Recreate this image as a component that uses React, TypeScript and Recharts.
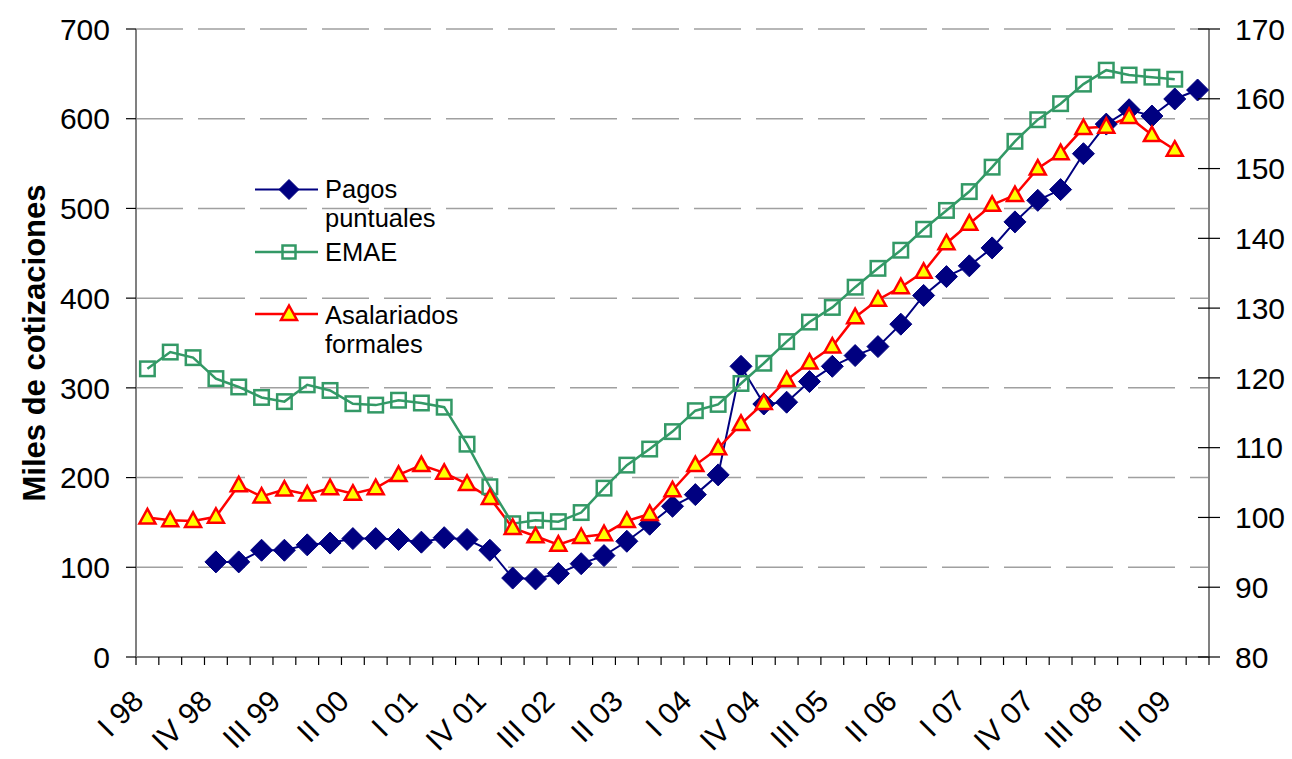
import React from 'react';
import { LineChart, Line, XAxis, YAxis, CartesianGrid, Legend } from 'recharts';

const quarters = [
  'I 98', 'II 98', 'III 98', 'IV 98',
  'I 99', 'II 99', 'III 99', 'IV 99',
  'I 00', 'II 00', 'III 00', 'IV 00',
  'I 01', 'II 01', 'III 01', 'IV 01',
  'I 02', 'II 02', 'III 02', 'IV 02',
  'I 03', 'II 03', 'III 03', 'IV 03',
  'I 04', 'II 04', 'III 04', 'IV 04',
  'I 05', 'II 05', 'III 05', 'IV 05',
  'I 06', 'II 06', 'III 06', 'IV 06',
  'I 07', 'II 07', 'III 07', 'IV 07',
  'I 08', 'II 08', 'III 08', 'IV 08',
  'I 09', 'II 09', 'III 09',
];

// Pagos puntuales (miles de cotizaciones, left axis)
const pagos = [
  null, null, null, 106,
  106, 119, 119, 125,
  127, 132, 132, 131,
  128, 133, 131, 119,
  88, 87, 93, 104,
  113, 129, 148, 168,
  181, 203, 324, 282,
  284, 307, 324, 336,
  346, 371, 403, 424,
  436, 456, 485, 509,
  521, 561, 594, 610,
  603, 622, 632,
];

// EMAE (index, right axis)
const emae = [
  121.3, 123.7, 122.9, 119.9,
  118.7, 117.2, 116.6, 119.0,
  118.2, 116.3, 116.1, 116.8,
  116.4, 115.8, 110.5, 104.4,
  99.1, 99.6, 99.4, 100.7,
  104.2, 107.5, 109.8, 112.3,
  115.3, 116.2, 119.2, 122.1,
  125.2, 128.0, 130.1, 133.0,
  135.7, 138.3, 141.3, 144.0,
  146.7, 150.2, 153.9, 157.0,
  159.3, 162.1, 164.1, 163.4,
  163.1, 162.8, null,
];

// Asalariados formales (index, right axis)
const asalariados = [
  100.0, 99.6, 99.5, 100.1,
  104.6, 103.0, 104.0, 103.3,
  104.2, 103.4, 104.2, 106.1,
  107.5, 106.4, 104.8, 102.8,
  98.5, 97.3, 96.1, 97.2,
  97.6, 99.5, 100.5, 103.9,
  107.5, 109.9, 113.4, 116.4,
  119.7, 122.2, 124.5, 128.7,
  131.2, 133.0, 135.2, 139.3,
  142.1, 144.8, 146.2, 150.0,
  152.2, 155.8, 156.0, 157.4,
  154.8, 152.7, null,
];

const leftTicks = [0, 100, 200, 300, 400, 500, 600, 700];
const rightTicks = [80, 90, 100, 110, 120, 130, 140, 150, 160, 170];

const data = quarters.map((q, i) => ({
  q,
  pagos: pagos[i],
  emae: emae[i],
  asal: asalariados[i],
}));

const W = 1292;
const H = 759;
const M = { top: 29, left: 136, right: 83, bottom: 102 };
const BAND = (W - M.left - M.right) / quarters.length;
const FONT = '"Liberation Sans", Arial, Helvetica, sans-serif';
const NAVY = '#000080';
const GREEN = '#339966';
const RED = '#FF0000';
const YELLOW = '#FFFF00';

const diamondPath = (cx: number, cy: number, r: number) =>
  `M${cx},${cy - r}L${cx + r},${cy}L${cx},${cy + r}L${cx - r},${cy}Z`;
const trianglePath = (cx: number, cy: number) =>
  `M${cx},${cy - 8.5}L${cx + 8},${cy + 6}L${cx - 8},${cy + 6}Z`;

const DiamondDot = (p: any) => {
  const { cx, cy, index } = p;
  if (cx == null || cy == null || p.value == null) return <g key={`dd${index}`} />;
  return <path key={`dd${index}`} d={diamondPath(cx, cy, 11)} fill={NAVY} stroke={NAVY} strokeWidth={1} />;
};

const SquareDot = (p: any) => {
  const { cx, cy, index } = p;
  if (cx == null || cy == null || p.value == null) return <g key={`sd${index}`} />;
  const s = 14.5;
  return (
    <rect key={`sd${index}`} x={cx - s / 2} y={cy - s / 2} width={s} height={s}
      fill="none" stroke={GREEN} strokeWidth={2.5} />
  );
};

const TriangleDot = (p: any) => {
  const { cx, cy, index } = p;
  if (cx == null || cy == null || p.value == null) return <g key={`td${index}`} />;
  return (
    <path key={`td${index}`} d={trianglePath(cx, cy)} fill={YELLOW} stroke={RED}
      strokeWidth={2.5} strokeLinejoin="miter" />
  );
};

const XTick = (props: any) => {
  const { x, y, payload, index } = props;
  const half = BAND / 2;
  const i = typeof index === 'number' ? index : payload.index;
  const ax = x - 2;
  const ay = y + 46;
  return (
    <g>
      <line x1={x - half} y1={y} x2={x - half} y2={y + 8} stroke="#000" strokeWidth={1.2} />
      {i === quarters.length - 1 && (
        <line x1={x + half} y1={y} x2={x + half} y2={y + 8} stroke="#000" strokeWidth={1.2} />
      )}
      {i % 3 === 0 && (
        <text x={ax} y={ay} transform={`rotate(-45 ${ax} ${ay})`} textAnchor="end"
          fontSize={30} fontFamily={FONT} fill="#000">
          {payload.value}
        </text>
      )}
    </g>
  );
};

const RightTick = (props: any) => {
  const { x, y, payload } = props;
  return (
    <g>
      <line x1={x - 37} y1={y} x2={x - 15} y2={y} stroke="#000" strokeWidth={1.2} />
      <text x={x} y={y} dy="0.355em" textAnchor="start" fontSize={30} fontFamily={FONT} fill="#000">
        {payload.value}
      </text>
    </g>
  );
};

const YLabel = (props: any) => {
  const vb = props.viewBox || { x: 0, y: M.top, width: M.left, height: H - M.top - M.bottom };
  const x0 = vb.x + 45;
  const y0 = vb.y + vb.height / 2;
  return (
    <text x={x0} y={y0} transform={`rotate(-90 ${x0} ${y0})`} textAnchor="middle"
      fontSize={31} fontWeight="bold" fontFamily={FONT} fill="#000">
      Miles de cotizaciones
    </text>
  );
};

const LegendContent = () => {
  const fs = 25.5;
  return (
    <svg width={260} height={200} style={{ display: 'block', overflow: 'visible' }}>
      <line x1={15} y1={19.5} x2={78} y2={19.5} stroke={NAVY} strokeWidth={2} />
      <path d={diamondPath(49, 19.5, 10)} fill={NAVY} stroke={NAVY} strokeWidth={1} />
      <text x={85} y={28} fontSize={fs} fontFamily={FONT} fill="#000">Pagos</text>
      <text x={85} y={57} fontSize={fs} fontFamily={FONT} fill="#000">puntuales</text>

      <line x1={15} y1={82} x2={78} y2={82} stroke={GREEN} strokeWidth={2.5} />
      <rect x={49 - 6.5} y={82 - 6.5} width={13} height={13} fill="none" stroke={GREEN} strokeWidth={2.5} />
      <text x={85} y={91} fontSize={fs} fontFamily={FONT} fill="#000">EMAE</text>

      <line x1={15} y1={144} x2={78} y2={144} stroke={RED} strokeWidth={2.5} />
      <path d={trianglePath(49, 144)} fill={YELLOW} stroke={RED} strokeWidth={2.5} />
      <text x={85} y={154} fontSize={fs} fontFamily={FONT} fill="#000">Asalariados</text>
      <text x={85} y={183} fontSize={fs} fontFamily={FONT} fill="#000">formales</text>
    </svg>
  );
};

export default function App() {
  return (
    <div style={{ position: 'absolute', left: 0, top: 0, width: W, height: H, background: '#fff', fontFamily: FONT }}>
      <LineChart width={W} height={H} data={data}
        margin={{ top: M.top, right: 0, bottom: 0, left: 0 }}>
        <CartesianGrid yAxisId="left" vertical={false} stroke="#a0a0a0" strokeWidth={1.5}
          strokeDasharray="47 15" />
        <XAxis dataKey="q" interval={0} height={M.bottom} tickSize={0} tickMargin={0}
          padding={{ left: BAND / 2, right: BAND / 2 }}
          tickLine={false} axisLine={{ stroke: '#808080', strokeWidth: 2 }}
          tick={<XTick />} />
        <YAxis yAxisId="left" orientation="left" width={M.left} domain={[0, 700]}
          ticks={leftTicks} interval={0} tickSize={10} tickMargin={16}
          tickLine={{ stroke: '#000', strokeWidth: 1.2 }}
          axisLine={{ stroke: '#808080', strokeWidth: 2 }}
          tick={{ fontSize: 30, fill: '#000', fontFamily: FONT }}
          label={YLabel} allowDataOverflow />
        <YAxis yAxisId="right" orientation="right" width={M.right} domain={[80, 170]}
          ticks={rightTicks} interval={0} tickSize={10} tickMargin={16}
          tickLine={false} axisLine={{ stroke: '#808080', strokeWidth: 2 }}
          tick={<RightTick />} allowDataOverflow />
        <Legend layout="horizontal" verticalAlign="middle" align="center"
          content={<LegendContent />}
          wrapperStyle={{ position: 'absolute', left: 240, top: 170, width: 260, height: 200 }} />
        <Line yAxisId="left" type="linear" dataKey="pagos" stroke={NAVY} strokeWidth={2}
          dot={DiamondDot} activeDot={false} isAnimationActive={false} />
        <Line yAxisId="right" type="linear" dataKey="emae" stroke={GREEN} strokeWidth={2.5}
          dot={SquareDot} activeDot={false} isAnimationActive={false} />
        <Line yAxisId="right" type="linear" dataKey="asal" stroke={RED} strokeWidth={2.5}
          dot={TriangleDot} activeDot={false} isAnimationActive={false} />
      </LineChart>
    </div>
  );
}
